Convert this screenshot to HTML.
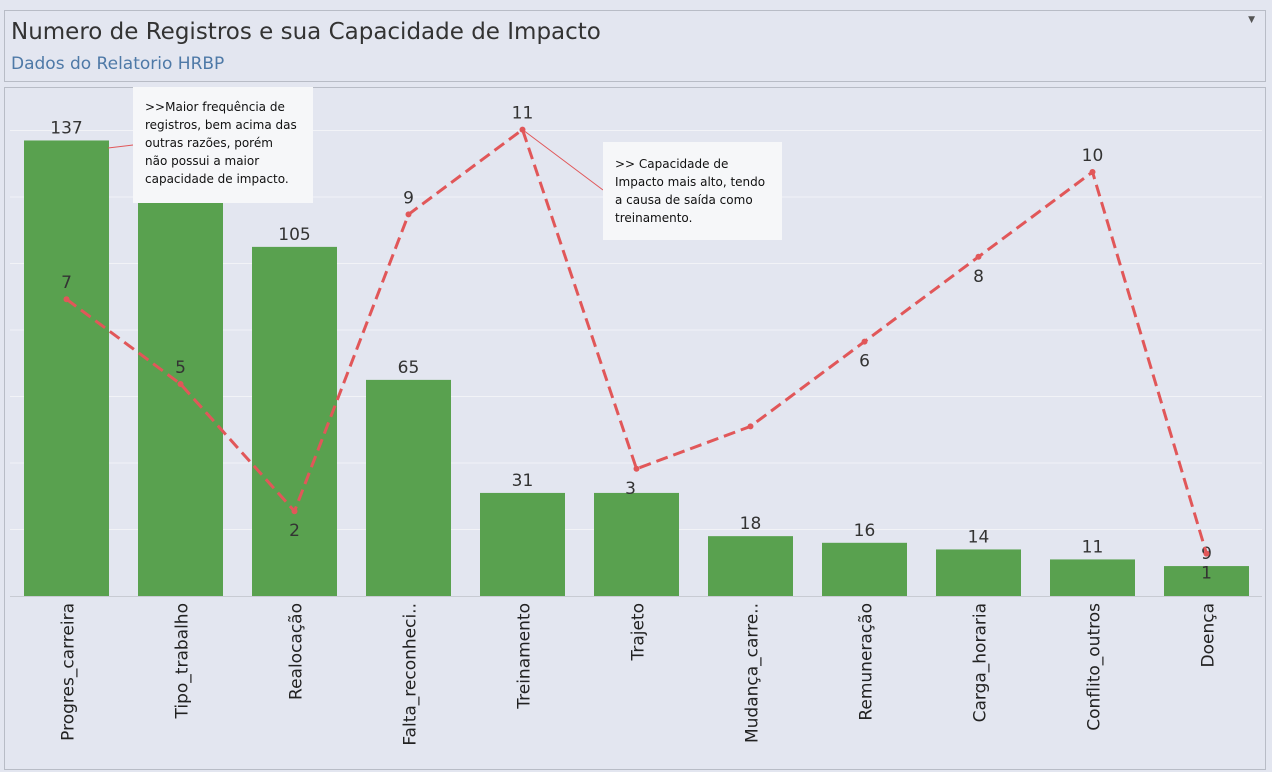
<!DOCTYPE html>
<html><head><meta charset="utf-8">
<style>
body{margin:0;width:1272px;height:772px;background:#e3e6f0;font-family:"DejaVu Sans","Liberation Sans",sans-serif;overflow:hidden;position:relative}
#hdr{position:absolute;left:4px;top:10px;width:1262px;height:72px;border:1px solid #b8bcc6;background:#e3e6f0;box-sizing:border-box}
#title{position:absolute;left:6px;top:8px;font-size:23px;color:#333}
#sub{position:absolute;left:6px;top:43px;font-size:17px;color:#4e79a7}
#arrow{position:absolute;right:10px;top:4px;font-size:9px;color:#555}
#chartbox{position:absolute;left:4px;top:87px;width:1262px;height:683px;border:1px solid #b8bcc6;box-sizing:border-box}
svg{position:absolute;left:0;top:0}
.note{position:absolute;background:#f6f7f9;font-size:12px;line-height:18px;color:#111;padding:12px 10px 0 12px;box-sizing:border-box;white-space:nowrap}
</style></head><body>
<div id="hdr">
<div id="title">Numero de Registros e sua Capacidade de Impacto</div>
<div id="sub">Dados do Relatorio HRBP</div>
<div id="arrow">▼</div>
</div>
<div id="chartbox"></div>
<svg id="chart" width="1272" height="772"></svg>
<div class="note" style="left:133px;top:87px;width:180px;height:116px;padding-top:11px">&gt;&gt;Maior frequência de<br>registros, bem acima das<br>outras razões, porém<br>não possui a maior<br>capacidade de impacto.</div>
<div class="note" style="left:603px;top:142px;width:179px;height:98px;padding-top:13px">&gt;&gt; Capacidade de<br>Impacto mais alto, tendo<br>a causa de saída como<br>treinamento.</div>
<script>
const categories=["Progres_carreira","Tipo_trabalho","Realocação","Falta_reconheci..","Treinamento","Trajeto","Mudança_carre..","Remuneração","Carga_horaria","Conflito_outros","Doença"];
const registros=[137,128,105,65,31,31,18,16,14,11,9];
const impacto=[7,5,2,9,11,3,4,6,8,10,1];
const barLabels=["137","","105","65","31","","18","16","14","11","9"];
const impactLabels=["7","5","2","9","11","3","","6","8","10","1"];
const labelPos=["a","a","b","a","a","b","a","b","b","a","b"];
const yTicks=[0,20,40,60,80,100,120,140];
const svg=document.getElementById('chart');
const NS='http://www.w3.org/2000/svg';
const base=596, x0=66.5, step=114, bw=85;
const xs=i=>x0+i*step;
const yBar=v=>base-v*3.325;
const yLine=v=>base-v*42.4;
function mk(t,a){const e=document.createElementNS(NS,t);for(const k in a)e.setAttribute(k,a[k]);svg.appendChild(e);return e;}
yTicks.forEach(t=>{if(t===0)return;const g=mk('line',{x1:10,x2:1262,y1:yBar(t),y2:yBar(t),stroke:'#f2f3f7','stroke-width':1});

});
const ax=mk('line',{x1:10,x2:1262,y1:base+0.5,y2:base+0.5,stroke:'#c8cbd3'});


categories.forEach((c,i)=>{
const r=mk('rect',{x:xs(i)-bw/2,y:yBar(registros[i]),width:bw,height:base-yBar(registros[i]),fill:'#59a14f'});


if(barLabels[i]){const t=mk('text',{x:xs(i),y:yBar(registros[i])-7,'text-anchor':'middle','font-size':17,fill:'#333'});t.textContent=barLabels[i];

}
const l=mk('text',{transform:`translate(${xs(i)+7},603) rotate(-90)`,'text-anchor':'end','font-size':17,fill:'#222'});l.textContent=c;


});
const a1=mk('line',{x1:108,y1:148,x2:133,y2:145,stroke:'#e15759'});
const a2=mk('line',{x1:xs(4),y1:yLine(11),x2:603,y2:190,stroke:'#e15759'});
const pts=impacto.map((v,i)=>xs(i)+','+yLine(v)).join(' ');
const pl=mk('polyline',{points:pts,fill:'none',stroke:'#e15759','stroke-width':3,'stroke-dasharray':'12,6'});


impacto.forEach((v,i)=>{
const c=mk('circle',{cx:xs(i),cy:yLine(v),r:3,fill:'#e15759'});


if(impactLabels[i]){const t=mk('text',{x:xs(i)-(i===5?6:0),y:labelPos[i]==='a'?yLine(v)-11:yLine(v)+25,'text-anchor':'middle','font-size':17,fill:'#333'});t.textContent=impactLabels[i];

}
});
</script>
</body></html>
